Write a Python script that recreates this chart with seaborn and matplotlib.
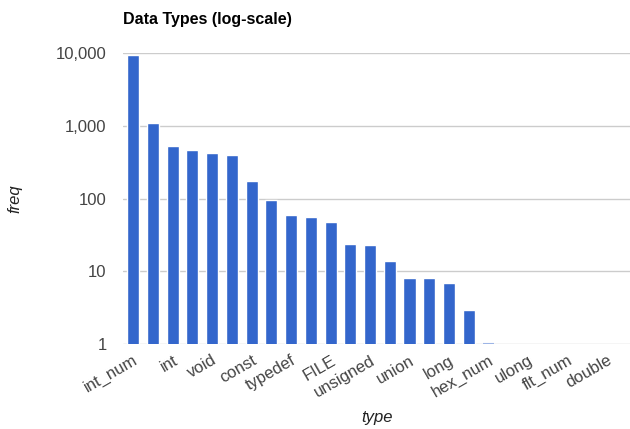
import matplotlib
matplotlib.use("Agg")
import matplotlib.pyplot as plt
from matplotlib.ticker import FixedLocator, FuncFormatter, NullLocator
import numpy as np
import pandas as pd
import seaborn as sns

# category names (only every other one is labelled in the chart)
types = ["int_num", "char", "int", "struct", "void", "static", "const",
         "extern", "typedef", "enum", "FILE", "float", "unsigned", "short",
         "union", "size_t", "long", "signed", "hex_num", "register", "ulong",
         "volatile", "flt_num", "oct_num", "double", "long_long"]
freq = [9290, 1096, 525, 462, 425, 391, 172, 94, 59, 56, 48, 24, 23, 14,
        8, 8, 7, 3, 1, 0, 0, 0, 0, 0, 0, 0]
y_ticks = [1, 10, 100, 1000, 10000]

df = pd.DataFrame({"type": types, "freq": freq})
df["freq"] = df["freq"].replace(0, np.nan)

sns.set_theme(style="white")
plt.rcParams["font.family"] = ["Liberation Sans", "DejaVu Sans"]

fig = plt.figure(figsize=(6.3, 4.29), dpi=100)
ax = fig.add_axes([0.1957, 0.1974, 0.8043, 0.6797])

sns.barplot(data=df, x="type", y="freq", order=types, color="#3366CC",
            saturation=1, width=0.61, ax=ax)
ax.set_yscale("log")
ax.set_ylim(1, 10000)
ax.set_xlim(-0.5, 25.17)

# hex_num has a hair-thin bar sitting on the baseline
ax.plot([17.7, 18.3], [1.02, 1.02], color="#9DB5E6", lw=1.5, solid_capstyle="butt")

ax.yaxis.set_major_locator(FixedLocator(y_ticks))
ax.yaxis.set_minor_locator(NullLocator())
ax.yaxis.set_major_formatter(FuncFormatter(lambda v, p: f"{v:,.0f}"))
ax.grid(axis="y", color="#CCCCCC", linewidth=1)
ax.set_axisbelow(True)
for s in ax.spines.values():
    s.set_visible(False)

ax.set_xticks(range(0, len(types), 2))
ax.set_xticklabels(types[::2], rotation=30, ha="right", rotation_mode="anchor")
ax.tick_params(axis="both", length=0, labelsize=12, colors="#444444")
ax.tick_params(axis="x", pad=6)
ax.tick_params(axis="y", pad=12)

ax.set_xlabel("type", fontsize=12, style="italic", color="#222222")
ax.set_ylabel("freq", fontsize=12, style="italic", color="#222222")
ax.yaxis.set_label_coords(-0.20, 0.5)
ax.xaxis.set_label_coords(0.5, -0.225)
fig.text(0.1957, 0.955, "Data Types (log-scale)", fontsize=11.5,
         fontweight="bold", color="#000000", va="center", ha="left")

fig.savefig("out.png", dpi=100)
plt.close()
